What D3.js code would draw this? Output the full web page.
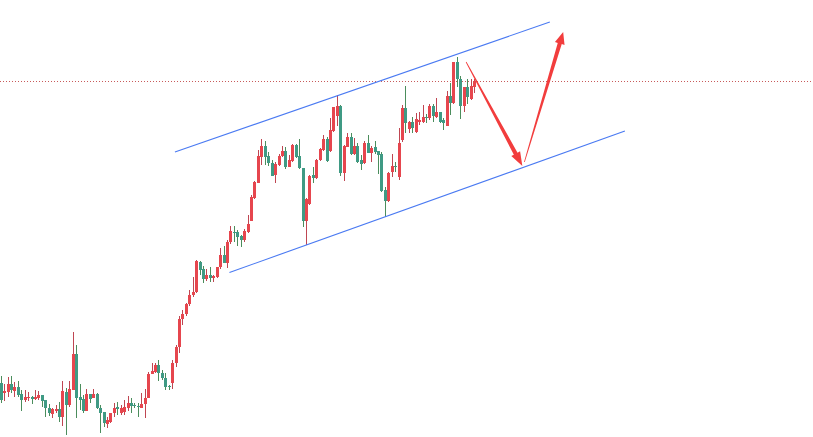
<!DOCTYPE html>
<html>
<head>
<meta charset="utf-8">
<script src="https://cdn.jsdelivr.net/npm/d3@7"></script>
<style>
  html, body { margin: 0; padding: 0; background: #fff; }
  #chart { width: 813px; height: 437px; }
</style>
</head>
<body>
<div id="chart"></div>
<script>
// candles, one per bar, oldest first
let opens = [57,47,48,56,49,53,46,40,42,43, 41,42,45,40,32,26,29,31,23,48,
  35,50,86,43,41,29,46,42,46,32, 28,16,18,27,33,27,28,32,37,35,
  34,32,36,42,66,68,75,67,62,54, 57,77,93,121,126,136,145,148,178,171,
  161,165,162,163,173,185,177,198,208,208, 204,200,208,219,242,257,283,294,284,277,
  265,275,284,289,273,279,295,284,272,219, 236,265,262,280,290,301,289,309,324,334,
  267,293,303,286,294,280,277,297,287,293, 289,286,250,239,268,274,263,300,332,311,
  318,308,318,318,323,322,334,323,328,320, 314,344,337,378,361,334,353,341,353]
let closes = [40,49,56,50,53,45,40,43,43,41, 43,45,39,32,27,31,31,23,49,35,
  51,86,42,40,29,46,41,46,32,27, 17,20,27,32,31,32,33,37,34,34,
  33,36,42,66,69,75,67,62,53,53, 77,93,121,126,136,145,148,179,170,161,
  165,162,164,173,185,177,198,209,207,203, 200,209,216,243,258,284,294,283,277,264,
  276,284,289,273,280,295,283,272,219,241, 264,262,280,291,301,279,310,333,334,267,
  294,303,286,294,278,276,297,287,292,288, 285,249,239,267,274,273,297,332,317,318,
  312,321,320,323,322,334,324,328,318,317, 344,337,378,361,334,353,343,354,359]
let highs = [64,56,63,64,58,59,50,50,48,44, 50,49,45,40,36,32,35,38,59,52,
  59,108,95,56,45,51,46,51,47,35, 28,23,27,37,38,35,40,44,42,37,
  37,47,51,68,77,77,80,70,67,55, 80,95,124,130,137,150,163,180,179,174,
  171,173,165,173,192,194,200,214,214,210, 205,211,225,245,259,290,301,299,288,280,
  278,286,294,293,285,296,296,301,272,242, 265,273,281,292,305,303,322,333,345,335,
  295,307,307,302,297,285,299,305,294,299, 289,288,253,268,286,278,312,335,354,319,
  323,327,328,335,326,336,336,342,328,322, 349,357,378,383,364,353,361,361,361]
let lows = [37,39,43,47,43,43,29,38,39,36, 40,40,33,23,24,22,27,18,14,5,
  33,50,22,30,27,29,37,42,31,7, 13,12,17,23,25,25,25,29,27,32,
  23,32,22,42,66,67,59,60,50,50, 51,73,87,115,124,134,143,147,165,157,
  159,158,158,162,171,177,172,196,198,194, 193,198,207,219,241,257,275,275,274,264,
  257,274,283,271,273,278,282,271,213,195, 235,257,261,279,289,278,288,308,314,264,
  259,293,285,285,277,270,276,287,278,286, 266,248,223,238,263,268,260,298,307,307,
  307,307,315,317,317,320,318,322,317,310, 314,325,336,353,321,328,336,340,347]

// drawings, as [bar index, price]
let channelUpper = [[50.8, 288], [160.1, 418]]
let channelLower = [[66.7, 167.5], [182.0, 309]]
let arrowDown = [[135.7, 378], [152.1, 274]]
let arrowUp = [[152.7, 278], [164.0, 408]]

let width = 813
let height = 437

let svg = d3.select('#chart')
  .append('svg')
    .attr('width', width)
    .attr('height', height)

let candles = opens.map((o, i) => ({ i: i, o: o, c: closes[i], h: highs[i], l: lows[i] }))

let xScale = d3.scaleLinear().domain([0, candles.length - 1]).range([0.7, 474])
let yScale = d3.scaleLinear().domain([0, 440]).range([440, 0])

let upColor = '#e6464e'
let downColor = '#3f9a84'
let upWick = '#bf4652'
let downWick = '#4b8d5c'

// last price line
let lastClose = closes[closes.length - 1]
svg.append('line')
  .attr('x1', 0)
  .attr('x2', width)
  .attr('y1', Math.round(yScale(lastClose)) + 0.5)
  .attr('y2', Math.round(yScale(lastClose)) + 0.5)
  .attr('stroke', '#c85a5a')
  .attr('stroke-width', 1)
  .attr('stroke-dasharray', '1,2')

// wicks
svg.append('g')
  .selectAll('line')
  .data(candles)
  .enter().append('line')
    .attr('x1', d => Math.round(xScale(d.i)) + 0.5)
    .attr('x2', d => Math.round(xScale(d.i)) + 0.5)
    .attr('y1', d => yScale(d.h))
    .attr('y2', d => yScale(d.l))
    .attr('stroke', d => d.c >= d.o ? upWick : downWick)
    .attr('stroke-width', 1)
    .attr('shape-rendering', 'crispEdges')

// bodies
svg.append('g')
  .selectAll('rect')
  .data(candles)
  .enter().append('rect')
    .attr('x', d => Math.round(xScale(d.i)) - 1)
    .attr('width', 3)
    .attr('y', d => yScale(Math.max(d.o, d.c)))
    .attr('height', d => Math.max(1, Math.abs(yScale(d.o) - yScale(d.c))))
    .attr('fill', d => d.c >= d.o ? upColor : downColor)
    .attr('shape-rendering', 'crispEdges')

// channel lines
let line = d3.line()
  .x(d => xScale(d[0]))
  .y(d => yScale(d[1]))

for (let ch of [channelUpper, channelLower]) {
  svg.append('path')
    .datum(ch)
    .attr('d', line)
    .attr('fill', 'none')
    .attr('stroke', '#4a7af2')
    .attr('stroke-width', 1.1)
}

// tapered arrows
function drawArrow(pts, headLen, headWidth) {
  let x0 = xScale(pts[0][0]), y0 = yScale(pts[0][1])
  let x1 = xScale(pts[1][0]), y1 = yScale(pts[1][1])
  let len = Math.hypot(x1 - x0, y1 - y0)
  let ux = (x1 - x0) / len, uy = (y1 - y0) / len
  let nx = -uy, ny = ux
  let bx = x1 - ux * headLen, by = y1 - uy * headLen
  let w0 = 0.4, w1 = 2.1
  let p = [
    [x0 + nx * w0, y0 + ny * w0],
    [bx + nx * w1, by + ny * w1],
    [bx + nx * headWidth / 2, by + ny * headWidth / 2],
    [x1, y1],
    [bx - nx * headWidth / 2, by - ny * headWidth / 2],
    [bx - nx * w1, by - ny * w1],
    [x0 - nx * w0, y0 - ny * w0]
  ]
  svg.append('path')
    .attr('d', 'M' + p.map(q => q.join(',')).join('L') + 'Z')
    .attr('fill', '#f23d3d')
}

drawArrow(arrowDown, 14, 10)
drawArrow(arrowUp, 12, 10)
</script>
</body>
</html>
